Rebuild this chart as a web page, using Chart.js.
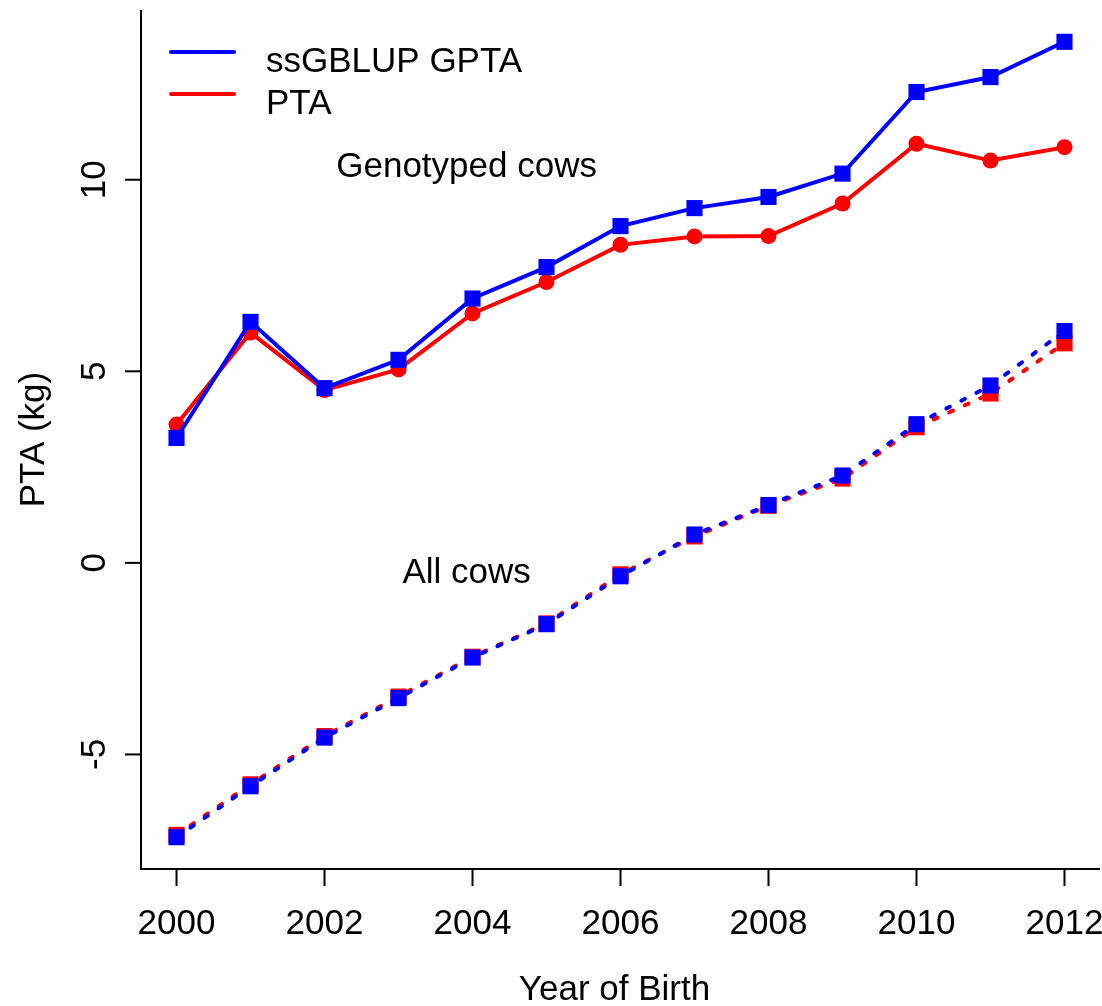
<!DOCTYPE html>
<html>
<head>
<meta charset="utf-8">
<title>PTA by year of birth</title>
<script src="https://cdn.jsdelivr.net/npm/chart.js@4.4.0/dist/chart.umd.min.js"></script>
<style>
  html, body { margin: 0; padding: 0; background: #ffffff; }
  #wrap { width: 1102px; height: 1006px; }
  canvas { display: block; }
</style>
</head>
<body>
<div id="wrap"><canvas id="c" width="1102" height="1006"></canvas></div>
<script>
// ---- data ----
const years = [2000, 2001, 2002, 2003, 2004, 2005, 2006, 2007, 2008, 2009, 2010, 2011, 2012];

// genotyped cows
const gptaGenotyped = [3.26, 6.29, 4.56, 5.30, 6.90, 7.72, 8.79, 9.26, 9.55, 10.16, 12.29, 12.68, 13.60];
const ptaGenotyped  = [3.61, 6.01, 4.51, 5.05, 6.51, 7.33, 8.30, 8.52, 8.53, 9.38, 10.94, 10.50, 10.85];

// all cows
const gptaAll = [-7.16, -5.83, -4.56, -3.53, -2.47, -1.60, -0.35, 0.74, 1.51, 2.28, 3.62, 4.63, 6.05];
const ptaAll  = [-7.10, -5.78, -4.52, -3.49, -2.45, -1.58, -0.30, 0.69, 1.49, 2.20, 3.54, 4.42, 5.73];

const xTicks = [2000, 2002, 2004, 2006, 2008, 2010, 2012];
const yTicks = [-5, 0, 5, 10];
const seriesNames = ['ssGBLUP GPTA', 'PTA'];
const groupLabels = ['Genotyped cows', 'All cows'];
const groupLabelX = [2003.92, 2003.92];
const groupLabelY = [10.08, -0.52];
const xTitle = 'Year of Birth';
const yTitle = 'PTA (kg)';

// ---- styling ----
const BLUE = '#0000ff';
const RED = '#ff0000';
const FONT = '35px "Liberation Sans", Arial, Helvetica, sans-serif';

const pts = (vals) => years.map((yr, i) => ({ x: yr, y: vals[i] }));

// axis limits padded by 4% of the data range on each side
function padded(vals) {
  const lo = Math.min(...vals), hi = Math.max(...vals);
  const d = (hi - lo) * 0.04;
  return [lo - d, hi + d];
}
const [xMin, xMax] = padded(years);
const [yMin, yMax] = padded([...gptaGenotyped, ...ptaGenotyped, ...gptaAll, ...ptaAll]);

// L-shaped frame, ticks, tick labels, titles, legend and group labels
const frame = {
  id: 'frame',
  afterDraw(chart) {
    const { ctx, chartArea: a, scales: { x, y } } = chart;
    ctx.save();
    ctx.strokeStyle = '#000';
    ctx.fillStyle = '#000';
    ctx.lineWidth = 2;
    ctx.lineJoin = 'miter';
    ctx.lineCap = 'butt';
    ctx.beginPath();
    ctx.moveTo(a.left, a.top);
    ctx.lineTo(a.left, a.bottom);
    ctx.lineTo(a.right, a.bottom);
    ctx.stroke();

    ctx.font = FONT;
    // x ticks
    ctx.textAlign = 'center';
    ctx.textBaseline = 'alphabetic';
    xTicks.forEach(t => {
      const px = x.getPixelForValue(t);
      ctx.beginPath();
      ctx.moveTo(px, a.bottom);
      ctx.lineTo(px, a.bottom + 17);
      ctx.stroke();
      ctx.fillText(String(t), px, a.bottom + 65);
    });
    // y ticks (labels parallel to the axis)
    yTicks.forEach(t => {
      const py = y.getPixelForValue(t);
      ctx.beginPath();
      ctx.moveTo(a.left - 16, py);
      ctx.lineTo(a.left, py);
      ctx.stroke();
      ctx.save();
      ctx.translate(a.left - 36, py);
      ctx.rotate(-Math.PI / 2);
      ctx.fillText(String(t), 0, 0);
      ctx.restore();
    });
    // axis titles
    ctx.fillText(xTitle, (a.left + a.right) / 2 - 6, a.bottom + 131);
    ctx.save();
    ctx.translate(a.left - 97, (a.top + a.bottom) / 2);
    ctx.rotate(-Math.PI / 2);
    ctx.fillText(yTitle, 0, 0);
    ctx.restore();

    // group labels
    groupLabels.forEach((txt, i) => {
      ctx.fillText(txt, x.getPixelForValue(groupLabelX[i]), y.getPixelForValue(groupLabelY[i]));
    });

    // legend
    const cols = [BLUE, RED];
    ctx.textAlign = 'left';
    ctx.lineWidth = 4;
    ctx.lineCap = 'round';
    seriesNames.forEach((name, i) => {
      const ly = 52 + i * 42;
      ctx.strokeStyle = cols[i];
      ctx.beginPath();
      ctx.moveTo(171, ly);
      ctx.lineTo(234, ly);
      ctx.stroke();
      ctx.fillText(name, 266, ly + 20);
    });
    ctx.restore();
  }
};

function build() {
  const common = { tension: 0, clip: false, borderWidth: 4, pointBorderWidth: 0, pointHoverRadius: 0 };
  new Chart(document.getElementById('c'), {
    type: 'line',
    data: {
      datasets: [
        Object.assign({}, common, {
          label: seriesNames[0] + ' (genotyped)', data: pts(gptaGenotyped),
          borderColor: BLUE, backgroundColor: BLUE, pointBackgroundColor: BLUE,
          pointStyle: 'rect', pointRadius: 11.4, order: 0
        }),
        Object.assign({}, common, {
          label: seriesNames[0] + ' (all)', data: pts(gptaAll),
          borderColor: BLUE, backgroundColor: BLUE, pointBackgroundColor: BLUE,
          pointStyle: 'rect', pointRadius: 11.4, order: 1,
          borderDash: [4, 13], borderCapStyle: 'round'
        }),
        Object.assign({}, common, {
          label: seriesNames[1] + ' (genotyped)', data: pts(ptaGenotyped),
          borderColor: RED, backgroundColor: RED, pointBackgroundColor: RED,
          pointStyle: 'circle', pointRadius: 8, order: 2
        }),
        Object.assign({}, common, {
          label: seriesNames[1] + ' (all)', data: pts(ptaAll),
          borderColor: RED, backgroundColor: RED, pointBackgroundColor: RED,
          pointStyle: 'rect', pointRadius: 11.4, order: 3,
          borderDash: [4, 13], borderCapStyle: 'round'
        })
      ]
    },
    options: {
      responsive: false,
      devicePixelRatio: 1,
      animation: false,
      events: [],
      layout: { autoPadding: false, padding: { left: 141, right: 2, top: 10, bottom: 137 } },
      scales: {
        x: { type: 'linear', min: xMin, max: xMax, display: false },
        y: { type: 'linear', min: yMin, max: yMax, display: false }
      },
      plugins: { legend: { display: false }, tooltip: { enabled: false } }
    },
    plugins: [frame]
  });
}

if (document.fonts && document.fonts.load) {
  document.fonts.load(FONT).then(build, build);
} else {
  build();
}
</script>
</body>
</html>
